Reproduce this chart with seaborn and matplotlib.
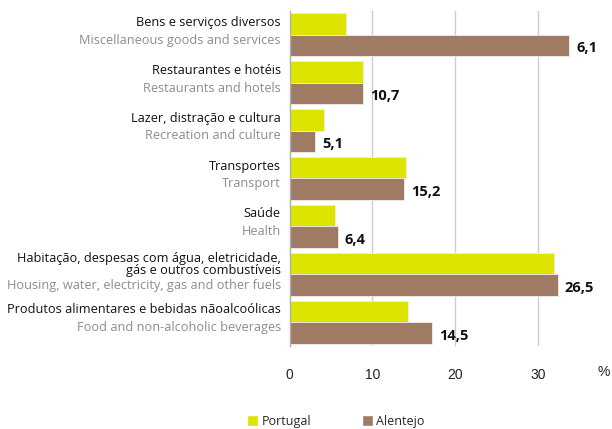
import numpy as np
import pandas as pd
import seaborn as sns
import matplotlib.pyplot as plt
from matplotlib.transforms import blended_transform_factory
from matplotlib.patches import Patch

# categories, top to bottom
labels_pt = ["Bens e serviços diversos",
             "Restaurantes e hotéis",
             "Lazer, distração e cultura",
             "Transportes",
             "Saúde",
             "Habitação, despesas com água, eletricidade,\ngás e outros combustíveis",
             "Produtos alimentares e bebidas nãoalcoólicas"]
labels_en = ["Miscellaneous goods and services",
             "Restaurants and hotels",
             "Recreation and culture",
             "Transport",
             "Health",
             "Housing, water, electricity, gas and other fuels",
             "Food and non-alcoholic beverages"]

portugal = [6.8, 8.8, 4.2, 14.1, 5.5, 32.0, 14.3]
alentejo = [33.8, 8.9, 3.1, 13.8, 5.8, 32.4, 17.2]
# value labels as printed on the original
alentejo_lbl = [6.1, 10.7, 5.1, 15.2, 6.4, 26.5, 14.5]

xticks = [0, 10, 20, 30]

col_pt = "#dde400"
col_al = "#a07b63"

df = pd.DataFrame({
    "cat": labels_en * 2,
    "val": portugal + alentejo,
    "region": ["Portugal"] * 7 + ["Alentejo"] * 7,
})

sns.set_style("white")
plt.rcParams["font.family"] = ["Liberation Sans", "DejaVu Sans"]

fig = plt.figure(figsize=(6.12, 4.29), dpi=100)
ax = fig.add_axes([0.4734, 0.1935, 0.4866, 0.781])

sns.barplot(data=df, y="cat", x="val", hue="region", order=labels_en,
            hue_order=["Portugal", "Alentejo"], saturation=1,
            palette=[col_pt, col_al], width=0.9, orient="h",
            edgecolor="#f2ece8", linewidth=0.6, legend=False, ax=ax)

ax.set_xlim(0, 36)
ax.set_ylim(6.5, -0.5)
ax.set_xticks(xticks)
ax.set_xticklabels([str(t) for t in xticks], fontsize=10, color="#222222")
ax.tick_params(axis="x", length=0, pad=16)
ax.set_yticks([])
ax.set_xlabel("")
ax.set_ylabel("")
for t in xticks[1:]:
    ax.axvline(t, color="#cccccc", linewidth=1, zorder=0)
for s in ["top", "right", "bottom"]:
    ax.spines[s].set_visible(False)
ax.spines["left"].set_color("#b0b0b0")
ax.spines["left"].set_linewidth(1)

ax.text(1.035, -0.078, "%", transform=ax.transAxes, ha="left", va="center",
        fontsize=10, color="#222222")

# category labels
tr = blended_transform_factory(ax.transAxes, ax.transData)
lab_font = ["Open Sans", "DejaVu Sans"]
for i, (p, e) in enumerate(zip(labels_pt, labels_en)):
    ypt = i - 0.26
    yen = i + 0.11
    if "\n" in p:
        ypt = i - 0.2
        yen = i + 0.23
    ax.text(-0.03, ypt, p, transform=tr, ha="right", va="center",
            fontsize=9.2, color="#111111", family=lab_font, linespacing=0.9)
    ax.text(-0.03, yen, e, transform=tr, ha="right", va="center",
            fontsize=9.2, color="#8c8c8c", family=lab_font)

# value labels on the Alentejo bars
al_bars = ax.containers[1]
for bar, v in zip(al_bars, alentejo_lbl):
    ax.annotate(f"{v:.1f}".replace(".", ","),
                (bar.get_width(), bar.get_y() + bar.get_height() / 2),
                xytext=(5, -2), textcoords="offset points",
                ha="left", va="center", fontsize=10.5, fontweight="bold",
                family=lab_font, color="#111111", annotation_clip=False)

handles = [Patch(facecolor=col_pt, label="Portugal"),
           Patch(facecolor=col_al, label="Alentejo")]
fig.legend(handles=handles, loc="center", bbox_to_anchor=(0.549, 0.018),
           ncol=2, frameon=False, handlelength=0.88, handleheight=0.88,
           handletextpad=0.25, columnspacing=4.1,
           prop={"family": lab_font, "size": 9})

fig.savefig("out.png", dpi=100)
